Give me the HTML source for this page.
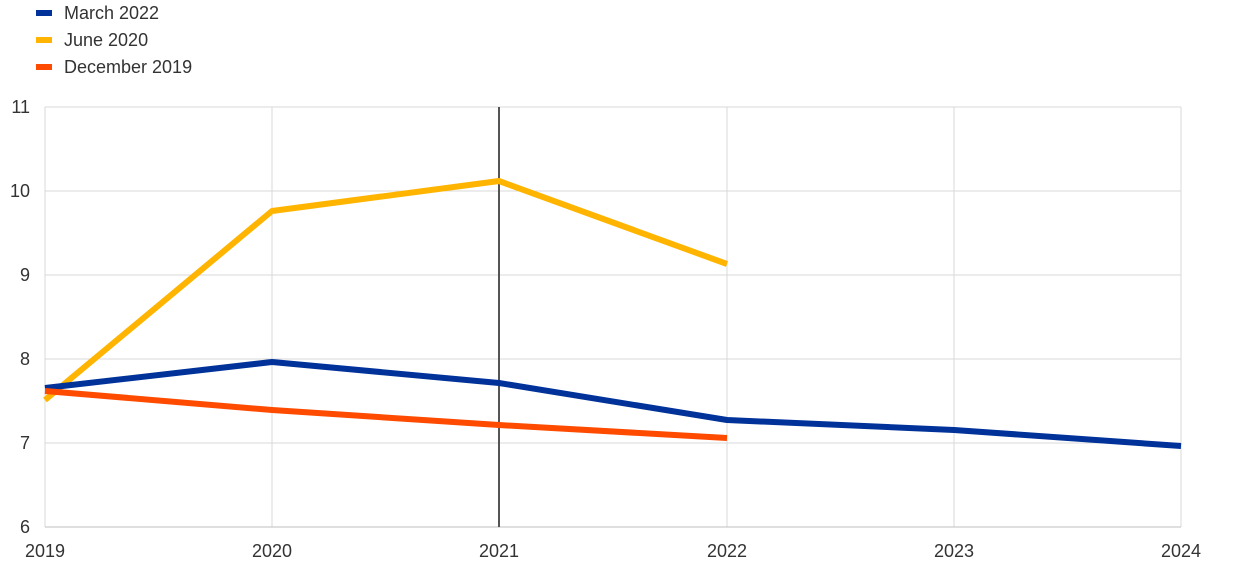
<!DOCTYPE html>
<html><head><meta charset="utf-8"><style>
body{margin:0;background:#fff;}
svg{display:block;font-family:"Liberation Sans",Arial,sans-serif;}
</style></head><body>
<svg width="1240" height="572" viewBox="0 0 1240 572">
<g stroke="#d9d9d9" stroke-width="1">
<line x1="45" y1="107" x2="1181" y2="107"/>
<line x1="45" y1="191" x2="1181" y2="191"/>
<line x1="45" y1="275" x2="1181" y2="275"/>
<line x1="45" y1="359" x2="1181" y2="359"/>
<line x1="45" y1="443" x2="1181" y2="443"/>
<line x1="272" y1="107" x2="272" y2="527"/>
<line x1="727" y1="107" x2="727" y2="527"/>
<line x1="954" y1="107" x2="954" y2="527"/>
<line x1="1181" y1="107" x2="1181" y2="527"/>
<line x1="45" y1="107" x2="45" y2="527"/>
</g>
<line x1="45" y1="527" x2="1181" y2="527" stroke="#bfbfbf" stroke-width="1"/>
<line x1="499" y1="107" x2="499" y2="527" stroke="#555" stroke-width="2"/>
<g fill="none" stroke-width="6" stroke-linejoin="round">
<polyline stroke="#FFB400" points="45,400 272,211 499,181 727,264"/>
<polyline stroke="#003299" points="45,388 272,362 499,383 727,420 954,430 1181,446"/>
<polyline stroke="#FF4B00" points="45,391 272,410 499,425 727,438"/>
</g>
<g font-size="18" fill="#333" text-anchor="end">
<text x="30" y="113">11</text><text x="30" y="197">10</text><text x="30" y="281">9</text>
<text x="30" y="365">8</text><text x="30" y="449">7</text><text x="30" y="533">6</text>
</g>
<g font-size="18" fill="#333" text-anchor="middle">
<text x="45" y="557">2019</text><text x="272" y="557">2020</text><text x="499" y="557">2021</text>
<text x="727" y="557">2022</text><text x="954" y="557">2023</text><text x="1181" y="557">2024</text>
</g>
<g font-size="18" fill="#333">
<rect x="36" y="10" width="16" height="6" fill="#003299"/><text x="64" y="19">March 2022</text>
<rect x="36" y="37" width="16" height="6" fill="#FFB400"/><text x="64" y="46">June 2020</text>
<rect x="36" y="64" width="16" height="6" fill="#FF4B00"/><text x="64" y="73">December 2019</text>
</g>
</svg>
</body></html>
